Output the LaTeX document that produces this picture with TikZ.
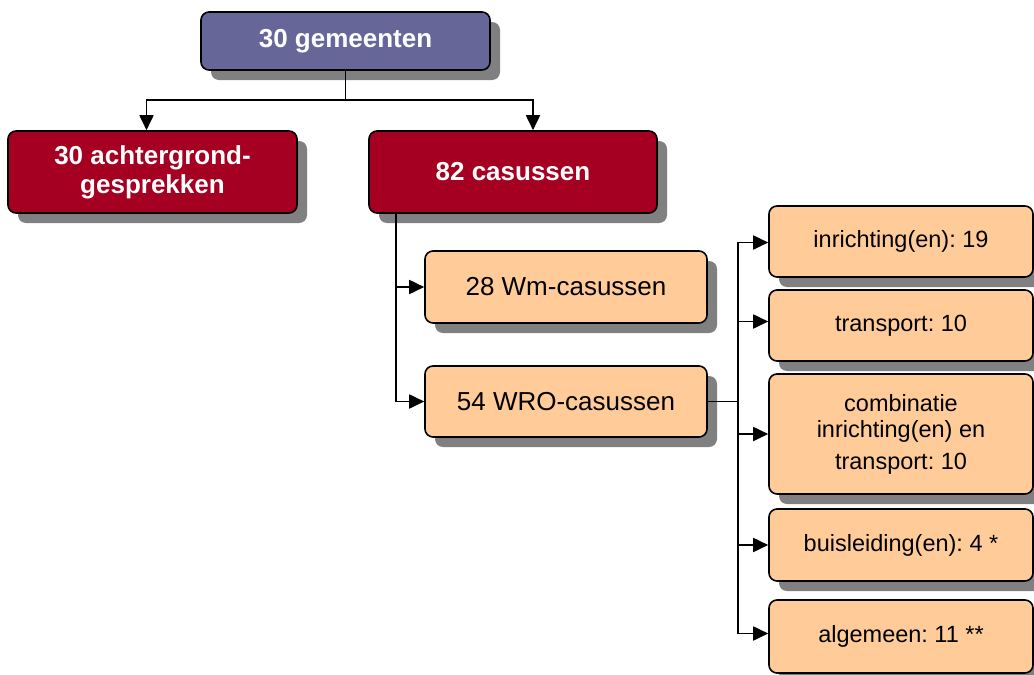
\documentclass[tikz,border=0pt]{standalone}
\usepackage{fontspec}
\setmainfont{Liberation Sans}
\usepackage{xcolor}
\usepackage{tikz}
\usetikzlibrary{positioning, arrows.meta, shapes, calc, shadows}
\frenchspacing

\definecolor{topblue}{HTML}{666699}
\definecolor{casered}{HTML}{A50021}
\definecolor{boxorange}{HTML}{FFCC99}
\definecolor{shadowgray}{HTML}{808080}

\tikzset{
    basebox/.style={draw=black, line width=1.6pt, rounded corners=8pt, align=center, inner sep=0pt,
        drop shadow={shadow xshift=10pt, shadow yshift=-10pt, fill=shadowgray, opacity=1}},
    topbox/.style={basebox, fill=topblue, text=white, font=\fontsize{26}{30}\selectfont\bfseries},
    redbox/.style={basebox, fill=casered, text=white, font=\fontsize{26}{29}\selectfont\bfseries},
    midbox/.style={basebox, fill=boxorange, font=\fontsize{26}{30}\selectfont},
    leafbox/.style={basebox, fill=boxorange, font=\fontsize{23.5}{26}\selectfont, minimum width=264pt},
    link/.style={line width=1.8pt},
    arr/.style={link, -{Triangle[length=15pt, width=14pt]}}
}

\begin{document}
\begin{tikzpicture}[x=1pt, y=-1pt]
    \useasboundingbox (0,0) rectangle (1034,675);

    % Top level
    \node[topbox, minimum width=289pt, minimum height=58pt] (gemeenten) at (345.5,41) {30 gemeenten};

    % Second level
    \node[redbox, minimum width=289pt, minimum height=82pt] (achtergrond) at (152.5,172) {30 achtergrond-\\gesprekken};
    \node[redbox, minimum width=288pt, minimum height=82pt] (casussen) at (513,172) {82 casussen};

    % Third level
    \node[midbox, minimum width=282pt, minimum height=72pt] (wm) at (566,287) {28 Wm-casussen};
    \node[midbox, minimum width=282pt, minimum height=71pt] (wro) at (566,401.5) {54 WRO-casussen};

    % WRO split
    \node[leafbox, minimum height=71pt] (inrichting) at (901,241.5) {inrichting(en): 19};
    \node[leafbox, minimum height=71pt] (transport) at (901,325.5) {transport: 10};
    \node[leafbox, minimum height=120pt] (combinatie) at (901,434) {combinatie\\inrichting(en) en\\[6pt]transport: 10};
    \node[leafbox, minimum height=72pt] (buisleiding) at (901,545) {buisleiding(en): 4 *};
    \node[leafbox, minimum height=73pt] (algemeen) at (901,636.5) {algemeen: 11 **};

    % Connectors
    \draw[link] (gemeenten.south) -- ++(0,29) coordinate (topsplit);
    \draw[arr] (topsplit) -| ([xshift=-6pt]achtergrond.north);
    \draw[arr] (topsplit) -| ([xshift=20pt]casussen.north);

    \draw[arr] ([xshift=28pt]casussen.south west) |- (wm.west);
    \draw[arr] ([xshift=28pt]casussen.south west) |- (wro.west);

    \draw[link] (wro.east) -- ++(30,0) coordinate (wrosplit);
    \draw[arr] (wrosplit) |- ([yshift=-1pt]inrichting.west);
    \draw[arr] (wrosplit) |- ([yshift=4pt]transport.west);
    \draw[arr] (wrosplit) |- (combinatie.west);
    \draw[arr] (wrosplit) |- (buisleiding.west);
    \draw[arr] (wrosplit) |- ([yshift=3pt]algemeen.west);

\end{tikzpicture}
\end{document}
